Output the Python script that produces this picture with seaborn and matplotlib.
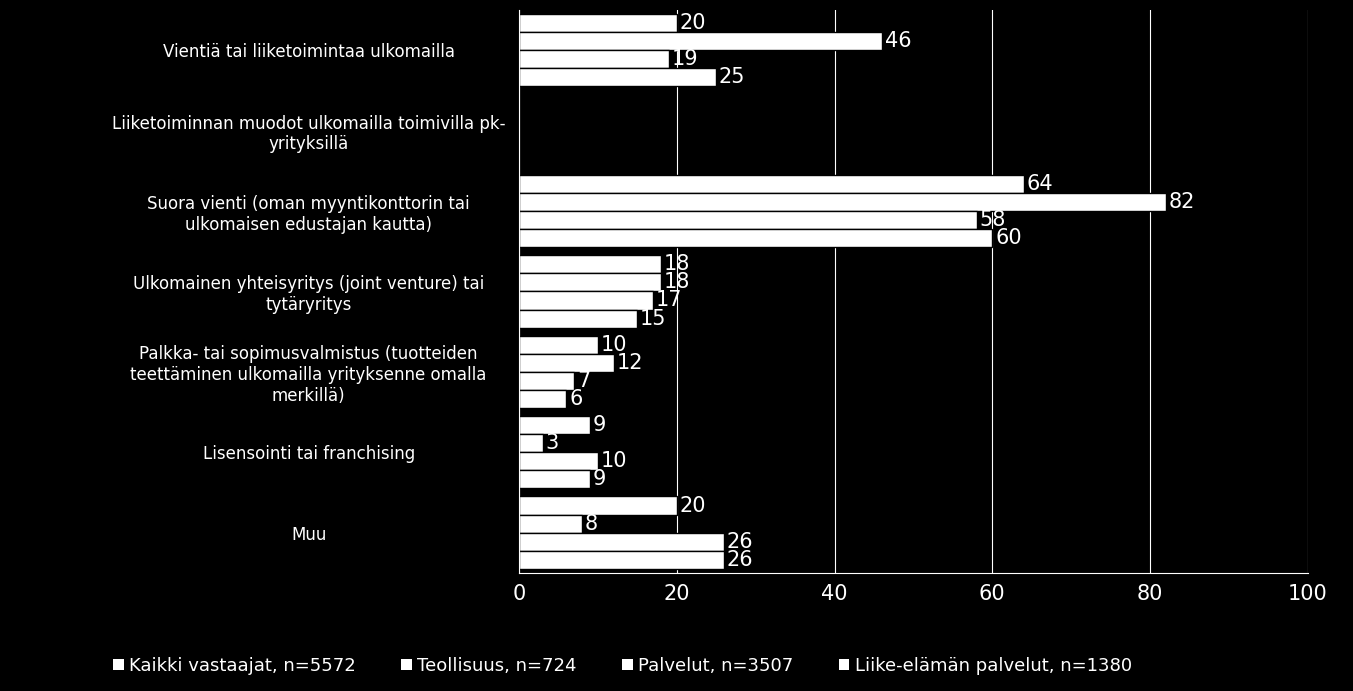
import matplotlib
matplotlib.use("Agg")
import matplotlib.pyplot as plt
import seaborn as sns
import pandas as pd
import numpy as np

categories = [
    "Vientiä tai liiketoimintaa ulkomailla",
    "Liiketoiminnan muodot ulkomailla toimivilla pk-\nyrityksillä",
    "Suora vienti (oman myyntikonttorin tai\nulkomaisen edustajan kautta)",
    "Ulkomainen yhteisyritys (joint venture) tai\ntytäryritys",
    "Palkka- tai sopimusvalmistus (tuotteiden\nteettäminen ulkomailla yrityksenne omalla\nmerkillä)",
    "Lisensointi tai franchising",
    "Muu",
]
series = ["Kaikki vastaajat, n=5572", "Teollisuus, n=724",
          "Palvelut, n=3507", "Liike-elämän palvelut, n=1380"]
kaikki = [20, np.nan, 64, 18, 10, 9, 20]
teollisuus = [46, np.nan, 82, 18, 12, 3, 8]
palvelut = [19, np.nan, 58, 17, 7, 10, 26]
liike = [25, np.nan, 60, 15, 6, 9, 26]

rows = []
for s, vals in zip(series, [kaikki, teollisuus, palvelut, liike]):
    for c, v in zip(categories, vals):
        rows.append({"cat": c, "series": s, "value": v})
df = pd.DataFrame(rows)

plt.rcParams["font.family"] = "DejaVu Sans"
fig = plt.figure(figsize=(13.53, 6.91), dpi=100, facecolor="black")
ax = fig.add_axes([0.3836, 0.171, 0.583, 0.8145], facecolor="black")

sns.barplot(data=df, y="cat", x="value", hue="series", orient="h",
            palette=["white"] * 4, edgecolor="black", linewidth=1,
            width=0.9, ax=ax, legend=False, errorbar=None)

for cont in ax.containers:
    labels = ["" if np.isnan(w) else f"{w:.0f}" for w in cont.datavalues]
    ax.bar_label(cont, labels=labels, color="white", fontsize=15, padding=2)

ax.set_xlim(0, 100)
ax.set_xticks([0, 20, 40, 60, 80, 100])
ax.grid(axis="x", color="white", linewidth=0.8)
ax.set_axisbelow(True)
ax.set_xlabel("")
ax.set_ylabel("")
ax.tick_params(axis="x", colors="white", labelsize=15, length=0, pad=8)
ax.tick_params(axis="y", colors="white", labelsize=12, length=0, pad=18)
for lab in ax.get_yticklabels():
    lab.set_horizontalalignment("center")
    lab.set_x(-0.235)
for sp in ["top", "right"]:
    ax.spines[sp].set_visible(False)
ax.spines["left"].set_color("white")
ax.spines["bottom"].set_color("white")

handles = [plt.Rectangle((0, 0), 1, 1, facecolor="white") for _ in series]
fig.legend(handles, series, loc="lower center", ncol=4, frameon=False,
           labelcolor="white", fontsize=13, bbox_to_anchor=(0.46, 0.0),
           handlelength=0.6, handleheight=0.6, handletextpad=0.3, columnspacing=2.5)

fig.savefig("out.png", dpi=100, facecolor="black")
